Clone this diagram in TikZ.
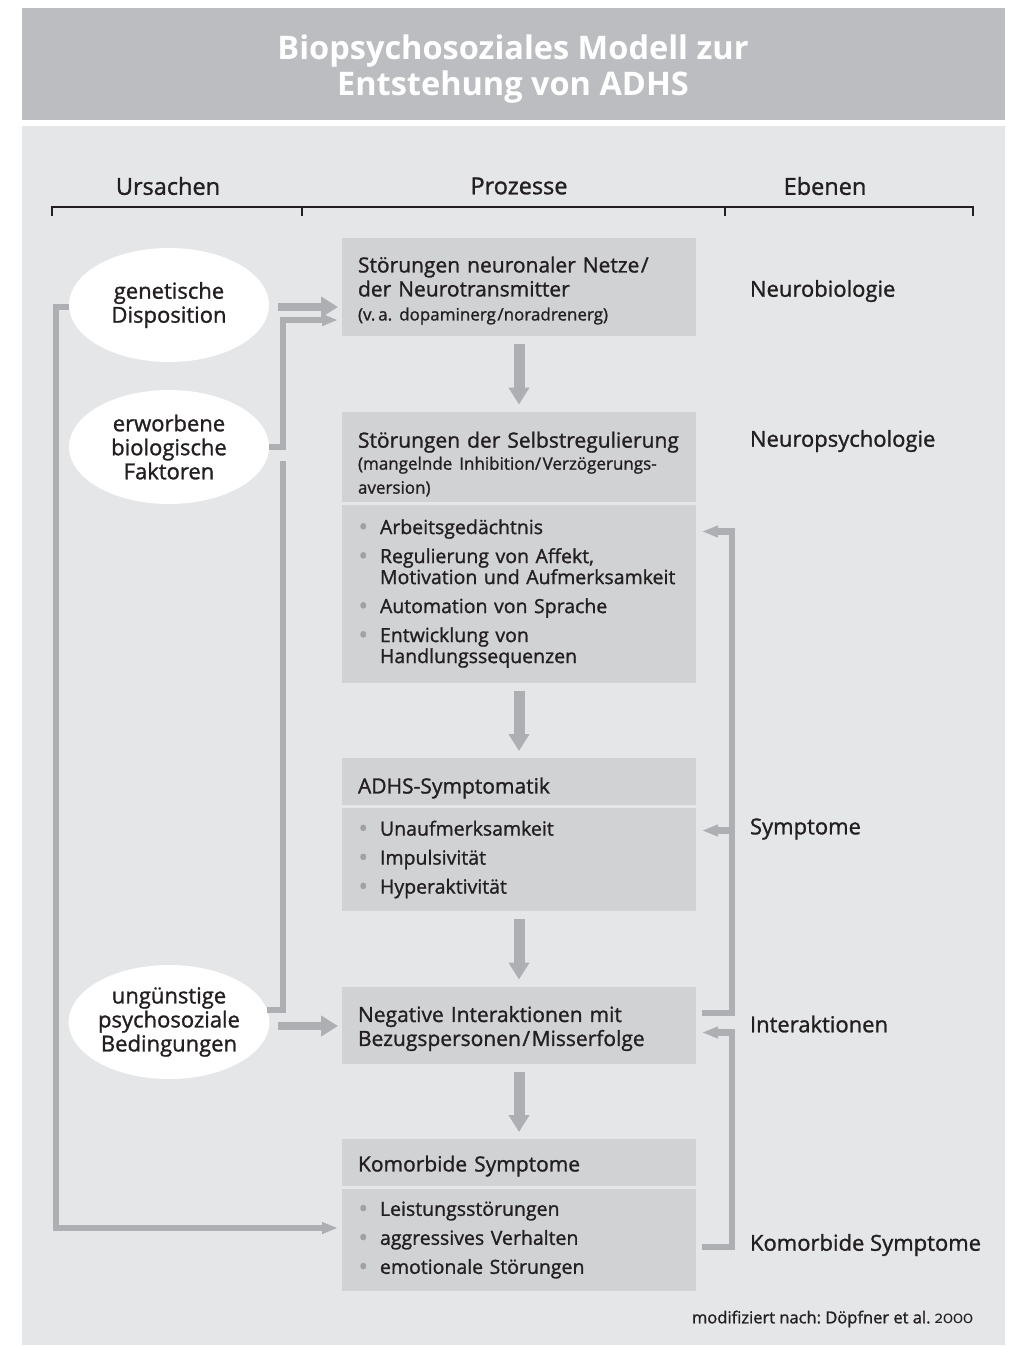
\documentclass[tikz,border=0pt]{standalone}
\usepackage{fontspec}
\setmainfont{Open Sans}[UprightFeatures={FakeBold=1.2}]
\newfontfamily\quellfont{Fira Sans}[Numbers=OldStyle]
\usetikzlibrary{shapes.geometric, arrows.meta, positioning, calc}
\frenchspacing

\definecolor{bandgray}{RGB}{188,189,192}
\definecolor{panelgray}{RGB}{229,230,232}
\definecolor{boxgray}{RGB}{209,210,212}
\definecolor{arrowgray}{RGB}{174,175,178}
\definecolor{bulletgray}{RGB}{160,161,164}
\definecolor{textdark}{RGB}{35,31,32}

\newcommand{\bitem}[1]{\noindent\hangindent=22pt\hangafter=1\makebox[22pt][l]{\hspace{0.5pt}\textcolor{bulletgray}{\raisebox{-1.5pt}{\scalebox{1.3}{\textbullet}}}}#1}
\newcommand{\strich}{\kern1.5pt/\kern1.5pt}
\newcommand{\oben}[1]{\rule{0pt}{#1}}

\begin{document}
\begin{tikzpicture}[
    x=1pt, y=-1pt,
    every node/.style={text=textdark, outer sep=0pt},
    titel/.style={text=white, align=center, font=\fontsize{32.5}{36}\selectfont\bfseries},
    spalte/.style={font=\fontsize{23.5}{24}\selectfont},
    prozess/.style={fill=boxgray, minimum width=354pt, text width=322pt, inner xsep=16pt, inner ysep=0pt, align=left, font=\fontsize{21}{24}\selectfont},
    liste/.style={prozess, font=\fontsize{19.5}{21}\selectfont},
    ursache/.style={ellipse, fill=white, minimum width=200pt, minimum height=114pt, inner sep=0pt, align=center, font=\fontsize{22}{24}\selectfont},
    ebene/.style={anchor=west, inner xsep=0pt, font=\fontsize{22}{24}\selectfont},
    verbindung/.style={draw=arrowgray, line width=6.5pt},
    pfeil/.style={verbindung, -{Triangle[length=16pt, width=11pt]}},
    dickpfeil/.style={verbindung, line width=8pt, -{Triangle[length=17pt, width=20pt]}},
    abwaerts/.style={verbindung, line width=11pt, -{Triangle[length=17pt, width=20pt]}, shorten <=8pt, shorten >=7pt},
    node distance=75.5pt
  ]

  \useasboundingbox (0,0) rectangle (1011,1347);
  \fill[white] (0,0) rectangle (1011,1347);
  \fill[bandgray] (22,8) rectangle (1005,120);
  \fill[panelgray] (22,126) rectangle (1005,1345);

  \node[titel] (titel) at (513,69) {Biopsychosoziales Modell zur\\Entstehung von ADHS};

  % Spalten
  \node[spalte] (ursachen) at (168,186) {Ursachen};
  \node[spalte] (prozesse) at (519,186) {Prozesse};
  \node[spalte] (ebenen) at (825,186) {Ebenen};
  \draw[textdark, line width=1.2pt] (52,216) -- (52,207) -- (973,207) -- (973,216);
  \draw[textdark, line width=1.2pt] (302,207) -- (302,216);
  \draw[textdark, line width=1.2pt] (725,207) -- (725,216);

  % Prozesse
  \node[prozess, anchor=north west, minimum height=98pt] (netze) at (342,238)
    {\oben{23pt}Störungen neuronaler Netze\kern1.5pt/\\der Neurotransmitter\\{\fontsize{17}{21}\selectfont(v.\,a. dopaminerg\kern1.5pt/noradrenerg)}};
  \node[prozess, minimum height=90pt, below=of netze] (regkopf)
    {\oben{31pt}\mbox{Störungen der Selbstregulierung}\\{\fontsize{17}{22}\selectfont(mangelnde Inhibition/\kern1.5pt Verzögerungs-\\aversion)}};
  \node[liste, minimum height=178pt, below=3pt of regkopf] (regliste)
    {\bitem{Arbeitsgedächtnis}\\[8pt]
     \bitem{Regulierung von Affekt,\newline Motivation und Aufmerksamkeit}\\[8pt]
     \bitem{Automation von Sprache}\\[8pt]
     \bitem{Entwicklung von\newline Handlungssequenzen}\par};
  \node[prozess, minimum height=47pt, below=of regliste] (symkopf) {\oben{29pt}ADHS-Symptomatik};
  \node[liste, minimum height=103pt, below=3pt of symkopf] (symliste)
    {\bitem{Unaufmerksamkeit}\\[8pt]
     \bitem{Impulsivität}\\[8pt]
     \bitem{Hyperaktivität}\par};
  \node[prozess, minimum height=77pt, below=of symliste] (interaktion)
    {\oben{23pt}Negative Interaktionen mit\\Bezugspersonen\strich Misserfolge};
  \node[prozess, minimum height=47pt, below=of interaktion] (komkopf) {\oben{23pt}Komorbide Symptome};
  \node[liste, minimum height=102pt, below=3pt of komkopf] (komliste)
    {\bitem{Leistungsstörungen}\\[8pt]
     \bitem{aggressives Verhalten}\\[8pt]
     \bitem{emotionale Störungen}\par};

  \draw[abwaerts] (netze) -- (regkopf);
  \draw[abwaerts] (regliste) -- (symkopf);
  \draw[abwaerts] (symliste) -- (interaktion);
  \draw[abwaerts] (interaktion) -- (komkopf);

  % Ursachen
  \node[ursache] (gen) at (169,305) {genetische\\Disposition};
  \node[ursache] (erw) at (169,447) {erworbene\\biologische\\Faktoren};
  \node[ursache] (ung) at (169,1022) {ungünstige\\psychosoziale\\Bedingungen};

  \draw[dickpfeil, shorten >=4pt] ($(gen.east)+(9,2)$) coordinate (g1) -- (g1 -| netze.west);
  \draw[pfeil] (erw.east) -- ++(14,0) |- ($(netze.west)+(-4,33)$);
  \draw[verbindung] (ung.7) -| ($(erw.east)+(14,14)$);
  \draw[dickpfeil, shorten >=4pt] ($(ung.east)+(9,4)$) coordinate (u1) -- (u1 -| interaktion.west);
  \draw[pfeil] ($(gen.west)+(0,2)$) -- ++(-13,0) |- ($(komliste.west)+(-4,-12)$);

  % Rueckkopplung
  \draw[pfeil] ($(interaktion.east)+(6,-12)$) -- ++(30,0) coordinate (busR) |- ($(regliste.east)+(6,-62)$);
  \coordinate (s1) at ($(symliste.east)+(6,-29)$);
  \draw[pfeil] (s1 -| busR) -- (s1);
  \draw[pfeil] ($(komliste.east)+(6,7)$) -- ++(30,0) |- ($(interaktion.east)+(6,7.5)$);

  % Ebenen
  \node[ebene] (neurobio) at (750,291) {Neurobiologie};
  \node[ebene] (neuropsy) at (750,441) {Neuropsychologie};
  \node[ebene] (symptome) at (750,829) {Symptome};
  \node[ebene] (interakt) at (750,1024) {Interaktionen};
  \node[ebene] (komorbid) at (750,1245) {Komorbide Symptome};

  \node[anchor=east, inner xsep=0pt, font=\fontsize{16.5}{19}\selectfont] (quelle) at (973,1319)
    {modifiziert nach: Döpfner et al. {\quellfont 2000}};

\end{tikzpicture}
\end{document}
